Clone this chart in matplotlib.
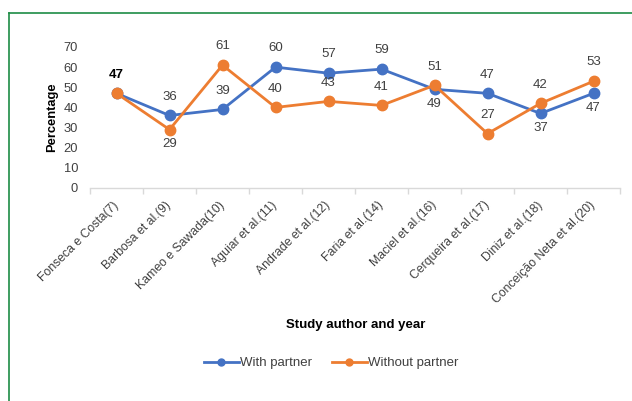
import matplotlib
matplotlib.use("Agg")
import matplotlib.pyplot as plt
from matplotlib.lines import Line2D
import numpy as np

plt.rcParams['font.family'] = ['Liberation Sans', 'DejaVu Sans']

studies = ["Fonseca e Costa(7)", "Barbosa et al.(9)", "Kameo e Sawada(10)",
           "Aguiar et al.(11)", "Andrade et al.(12)", "Faria et al.(14)",
           "Maciel et al.(16)", "Cerqueira et al.(17)", "Diniz et al.(18)",
           "Conceição Neta et al.(20)"]
with_partner = [47, 36, 39, 60, 57, 59, 49, 47, 37, 47]
without_partner = [47, 29, 61, 40, 43, 41, 51, 27, 42, 53]

# label placement: +1 above the point, -1 below
with_pos = [1, 1, 1, 1, 1, 1, -1, 1, -1, -1]
without_pos = [1, -1, 1, 1, 1, 1, 1, 1, 1, 1]

BLUE = "#4472C4"
ORANGE = "#ED7D31"
TXT = "#404040"

W, H = 632, 401
fig = plt.figure(figsize=(W / 100, H / 100), dpi=100)

# thin green frame around the panel
fig.add_artist(Line2D([9 / W, 9 / W], [0, 1 - 12.5 / H], color="#1E8C45", lw=1.2,
                      transform=fig.transFigure))
fig.add_artist(Line2D([9 / W, 1], [1 - 12.5 / H, 1 - 12.5 / H], color="#1E8C45", lw=1.2,
                      transform=fig.transFigure))

ax = fig.add_axes([90 / W, 1 - 188 / H, 530 / W, 141 / H])
x = np.arange(len(studies))

ax.plot(x, with_partner, color=BLUE, lw=2.0, marker="o", ms=7.5, zorder=3)
ax.plot(x, without_partner, color=ORANGE, lw=2.0, marker="o", ms=7.5, zorder=4)

ax.set_xlim(-0.5, len(studies) - 0.5)
ax.set_ylim(0, 70)
ax.set_yticks(range(0, 71, 10))
ax.tick_params(axis="y", length=0, labelsize=9.3, labelcolor=TXT, pad=8.5)

for s in ["top", "right", "left"]:
    ax.spines[s].set_visible(False)
ax.spines["bottom"].set_color("#D9D9D9")
ax.spines["bottom"].set_linewidth(1.0)

ax.set_xticks(x)
ax.set_xticklabels(studies, rotation=45, ha="right", va="center",
                   rotation_mode="anchor", fontsize=8.8, color=TXT)
ax.tick_params(axis="x", which="major", length=0, pad=11)
ax.set_xticks(np.arange(-0.5, len(studies), 1), minor=True)
ax.tick_params(axis="x", which="minor", length=4, color="#D9D9D9", width=1.0)

ax.set_ylabel("Percentage", fontsize=9.3, fontweight="bold", labelpad=4)

def label_series(vals, pos, skip_first=False):
    for i, (v, p) in enumerate(zip(vals, pos)):
        if skip_first and i == 0:
            continue
        off = 13.5 if p > 0 else -10.5
        ax.annotate(str(v), (x[i], v), xytext=(0, off), textcoords="offset points",
                    ha="center", va="center", fontsize=9.5, color=TXT, zorder=5)

label_series(with_partner, with_pos, skip_first=True)
label_series(without_partner, without_pos, skip_first=True)
ax.annotate(str(with_partner[0]), (x[0], with_partner[0]), xytext=(0, 13.5),
            textcoords="offset points", ha="center", va="center",
            fontsize=9.5, fontweight="bold", color="black", zorder=5)

fig.text(356 / W, 1 - 325 / H, "Study author and year", ha="center", va="center",
         fontsize=9.5, fontweight="bold")

handles = [Line2D([], [], color=BLUE, lw=2.0, marker="o", ms=5),
           Line2D([], [], color=ORANGE, lw=2.0, marker="o", ms=5)]
fig.legend(handles, ["With partner", "Without partner"], loc="center",
           bbox_to_anchor=(331 / W, 1 - 363 / H), ncol=2, frameon=False,
           fontsize=9.5, handlelength=2.65, handletextpad=0.1, columnspacing=1.5,
           labelcolor=TXT)

fig.savefig("out.png", dpi=100)
